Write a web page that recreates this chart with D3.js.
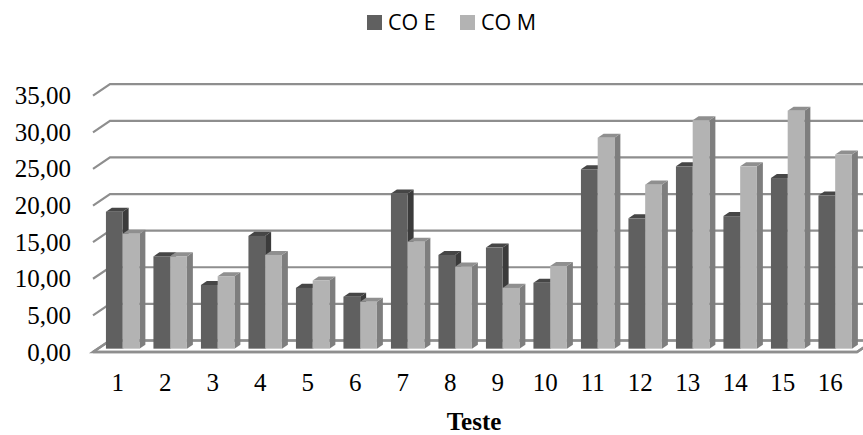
<!DOCTYPE html>
<html>
<head>
<meta charset="utf-8">
<script src="https://cdn.jsdelivr.net/npm/d3@7"></script>
<style>
  html, body { margin: 0; padding: 0; background: #ffffff; }
  svg { display: block; }
</style>
</head>
<body>
<svg id="chart" width="863" height="435"></svg>
<script>
// ---- data ----
const categories = ["1","2","3","4","5","6","7","8","9","10","11","12","13","14","15","16"];
const seriesNames = ["CO E", "CO M"];
const coE = [18.7, 12.6, 8.7, 15.4, 8.3, 7.1, 21.2, 12.8, 13.8, 9.0, 24.5, 17.8, 24.9, 18.1, 23.3, 20.9];
const coM = [15.7, 12.6, 9.9, 12.8, 9.3, 6.4, 14.6, 11.2, 8.3, 11.3, 28.8, 22.4, 31.2, 24.9, 32.5, 26.5];
const yTicks = [0, 5, 10, 15, 20, 25, 30, 35];
const xTitle = "Teste";

// ---- style ----
const colors = {
  "CO E": { front: "#606060", top: "#464646", side: "#3b3b3b" },
  "CO M": { front: "#b3b3b3", top: "#8f8f8f", side: "#7e7e7e" }
};
const gridColor = "#8e8e8e";
const serif = "'Liberation Serif', 'Times New Roman', serif";

// ---- geometry (oblique 3D projection) ----
const DX = 17, DY = 11.5;
const barFront = 0.29, barBack = 0.64;
const svg = d3.select("#chart");

const x0 = d3.scaleBand().domain(categories).range([94, 854])
  .paddingInner(0.295).paddingOuter(0.1475);
const x1 = d3.scaleBand().domain(seriesNames).range([0, x0.bandwidth()]);
const y = d3.scaleLinear().domain([0, 35]).range([352, 95.7]);

function P(xf, v, d) { return [xf + d * DX, y(v) - d * DY]; }
function poly(pts) { return "M" + pts.map(p => p.join(",")).join("L") + "Z"; }

// floor
const floorL = 93, floorR = 857;
svg.append("path")
  .attr("d", poly([[floorL, y(0)], [floorR, y(0)], [floorR + DX, y(0) - DY], [floorL + DX, y(0) - DY]]))
  .attr("fill", "#ffffff")
  .attr("stroke", gridColor).attr("stroke-width", 2.5);

// gridlines
svg.append("g").selectAll("path").data(yTicks).join("path")
  .attr("d", v => `M${floorL},${y(v)}L${floorL + DX},${y(v) - DY}L${floorR + DX + 10},${y(v) - DY}`)
  .attr("fill", "none")
  .attr("stroke", gridColor).attr("stroke-width", 2.2);

svg.append("path")
  .attr("d", `M${floorL},${y(0)}L${floorR},${y(0)}L${floorR + DX},${y(0) - DY}`)
  .attr("fill", "none").attr("stroke", gridColor).attr("stroke-width", 2.5);

// bars
const barData = [];
categories.forEach((c, i) => {
  barData.push({ cat: c, s: "CO E", v: coE[i] });
  barData.push({ cat: c, s: "CO M", v: coM[i] });
});

const bars = svg.append("g").selectAll("g").data(barData).join("g");
bars.each(function(d) {
  const g = d3.select(this);
  const xa = x0(d.cat) + x1(d.s), xb = xa + x1.bandwidth();
  const col = colors[d.s];
  g.append("path").attr("d", poly([P(xb, 0, barFront), P(xb, 0, barBack), P(xb, d.v, barBack), P(xb, d.v, barFront)]))
    .attr("fill", col.side);
  g.append("path").attr("d", poly([P(xa, d.v, barFront), P(xb, d.v, barFront), P(xb, d.v, barBack), P(xa, d.v, barBack)]))
    .attr("fill", col.top);
  const f0 = P(xa, d.v, barFront), f1 = P(xb, 0, barFront);
  g.append("rect").attr("x", f0[0]).attr("y", f0[1])
    .attr("width", f1[0] - f0[0]).attr("height", f1[1] - f0[1])
    .attr("fill", col.front);
});

// y axis
const fmt = d3.format(".2f");
const yAxis = d3.axisLeft(y).tickValues(yTicks).tickSize(0).tickPadding(9)
  .tickFormat(v => fmt(v).replace(".", ","));
const gy = svg.append("g").attr("transform", "translate(80,0)").call(yAxis);
gy.select(".domain").remove();
gy.selectAll("text").attr("font-family", serif).attr("font-size", 25).attr("fill", "#000");

// x axis
const xAxis = d3.axisBottom(x0).tickSize(0).tickPadding(21);
const gx = svg.append("g").attr("transform", `translate(0,${y(0)})`).call(xAxis);
gx.select(".domain").remove();
gx.selectAll("text").attr("font-family", serif).attr("font-size", 25).attr("fill", "#000");

// x title
svg.append("text").attr("x", (x0.range()[0] + x0.range()[1]) / 2).attr("y", 430)
  .attr("text-anchor", "middle")
  .attr("font-family", serif)
  .attr("font-weight", "bold").attr("font-size", 25).attr("fill", "#000")
  .text(xTitle);

// legend
const legendX = [367, 460];
const leg = svg.append("g").selectAll("g").data(seriesNames).join("g")
  .attr("transform", (d, i) => `translate(${legendX[i]},15)`);
leg.append("rect").attr("width", 15).attr("height", 15).attr("fill", d => colors[d].front);
leg.append("text").attr("x", 21).attr("y", 14.5)
  .attr("font-family", "'Open Sans', sans-serif").attr("font-size", 21.5).attr("fill", "#000")
  .text(d => d);
</script>
</body>
</html>
